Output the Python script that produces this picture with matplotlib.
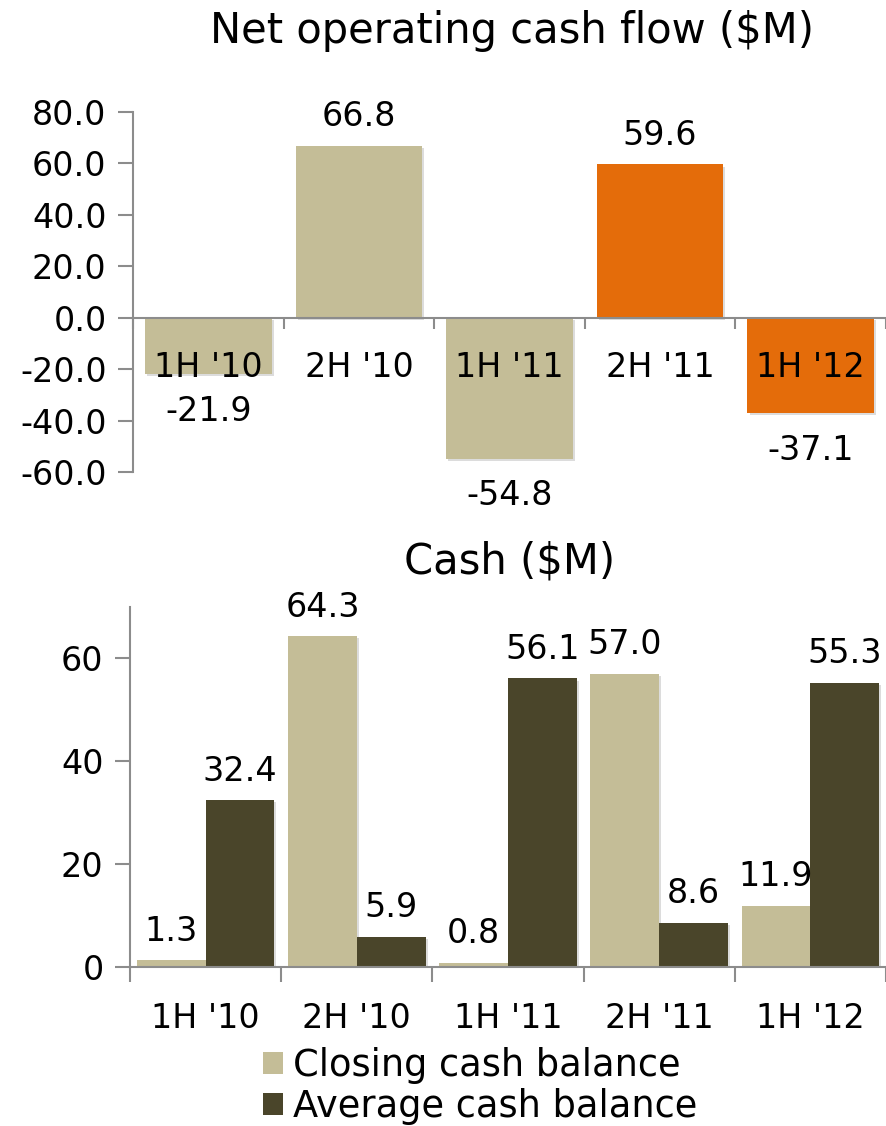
import matplotlib
matplotlib.use("Agg")
import matplotlib.pyplot as plt
import matplotlib.patheffects as pe
from matplotlib.patches import Patch
import numpy as np

plt.rcParams['font.family'] = ['DejaVu Sans']

periods = ["1H '10", "2H '10", "1H '11", "2H '11", "1H '12"]
net_cash_flow = [-21.9, 66.8, -54.8, 59.6, -37.1]
closing_cash = [1.3, 64.3, 0.8, 57.0, 11.9]
average_cash = [32.4, 5.9, 56.1, 8.6, 55.3]

TAN = '#C4BD97'
ORANGE = '#E46C0A'
DARK = '#4A452A'
GREY = '#8C8C8C'
FS = 24
TITLE_FS = 30

shadow = [pe.SimplePatchShadow(offset=(1.5, -1.5), shadow_rgbFace='#777777', alpha=0.25),
          pe.Normal()]

fig = plt.figure(figsize=(8.86, 11.26), dpi=100)

# ---- Net operating cash flow ----
ax1 = fig.add_axes([133 / 886, 1 - 472 / 1126, 1 - 133 / 886, 360 / 1126])
x = np.arange(len(periods))
colors1 = [TAN, TAN, TAN, ORANGE, ORANGE]
bars1 = ax1.bar(x, net_cash_flow, width=0.84, color=colors1, zorder=2)
for b in bars1:
    b.set_path_effects(shadow)
ax1.set_xlim(-0.5, len(periods) - 0.5)
ax1.set_ylim(-60, 80)
ax1.set_yticks(np.arange(-60, 81, 20))
ax1.set_yticklabels([f"{v:.1f}" for v in np.arange(-60, 81, 20)])
for s in ['top', 'right']:
    ax1.spines[s].set_visible(False)
ax1.spines['bottom'].set_position(('data', 0))
for s in ['left', 'bottom']:
    ax1.spines[s].set_color(GREY)
    ax1.spines[s].set_linewidth(1.5)
    ax1.spines[s].set_zorder(3)
ax1.set_xticks(np.arange(-0.5, len(periods), 1.0))
ax1.set_xticklabels([])
ax1.tick_params(axis='x', direction='out', length=8, color=GREY, width=1.5)
ax1.tick_params(axis='y', direction='out', length=11, color=GREY, width=1.5,
                labelsize=FS, pad=8)
for xi, lab in zip(x, periods):
    ax1.text(xi, -19.5, lab, ha='center', va='center', fontsize=FS, zorder=4)
for b, v in zip(bars1, net_cash_flow):
    cx = b.get_x() + b.get_width() / 2
    if v >= 0:
        ax1.annotate(f"{v:.1f}", (cx, v), xytext=(0, 9), textcoords='offset points',
                     ha='center', va='bottom', fontsize=FS)
    else:
        ax1.annotate(f"{v:.1f}", (cx, v), xytext=(0, -15), textcoords='offset points',
                     ha='center', va='top', fontsize=FS)
fig.text(512 / 886, 1 - 31 / 1126, "Net operating cash flow ($M)", ha='center',
         va='center', fontsize=TITLE_FS)

# ---- Cash ----
ax2 = fig.add_axes([130 / 886, 1 - 967 / 1126, 1 - 130 / 886, 360 / 1126])
w = 0.455
bars_c = ax2.bar(x - w / 2, closing_cash, width=w, color=TAN, zorder=2,
                 label='Closing cash balance')
bars_a = ax2.bar(x + w / 2, average_cash, width=w, color=DARK, zorder=2,
                 label='Average cash balance')
for b in list(bars_c) + list(bars_a):
    b.set_path_effects(shadow)
ax2.set_xlim(-0.5, len(periods) - 0.5)
ax2.set_ylim(0, 70)
ax2.set_yticks([0, 20, 40, 60])
for s in ['top', 'right']:
    ax2.spines[s].set_visible(False)
for s in ['left', 'bottom']:
    ax2.spines[s].set_color(GREY)
    ax2.spines[s].set_linewidth(1.5)
ax2.set_xticks(np.arange(-0.5, len(periods), 1.0))
ax2.set_xticklabels([])
ax2.set_xticks(x, minor=True)
ax2.set_xticklabels(periods, minor=True)
ax2.tick_params(axis='x', which='major', direction='out', length=11, color=GREY, width=1.5)
ax2.tick_params(axis='x', which='minor', length=0, labelsize=FS, pad=25)
ax2.tick_params(axis='y', direction='out', length=11, color=GREY, width=1.5,
                labelsize=FS, pad=8)
for bars, vals in ((bars_c, closing_cash), (bars_a, average_cash)):
    for b, v in zip(bars, vals):
        ax2.annotate(f"{v:.1f}", (b.get_x() + b.get_width() / 2, v), xytext=(0, 9),
                     textcoords='offset points', ha='center', va='bottom', fontsize=FS)
fig.text(510 / 886, 1 - 561 / 1126, "Cash ($M)", ha='center', va='center',
         fontsize=TITLE_FS)

handles = [Patch(facecolor=TAN), Patch(facecolor=DARK)]
fig.legend(handles, ['Closing cash balance', 'Average cash balance'],
           loc='center left', bbox_to_anchor=(263 / 886, 1 - 1086 / 1126),
           frameon=False, fontsize=26.5, handlelength=0.55, handleheight=0.55,
           handletextpad=0.27, labelspacing=0.12, borderpad=0, borderaxespad=0)

fig.savefig('out.png', dpi=100)
